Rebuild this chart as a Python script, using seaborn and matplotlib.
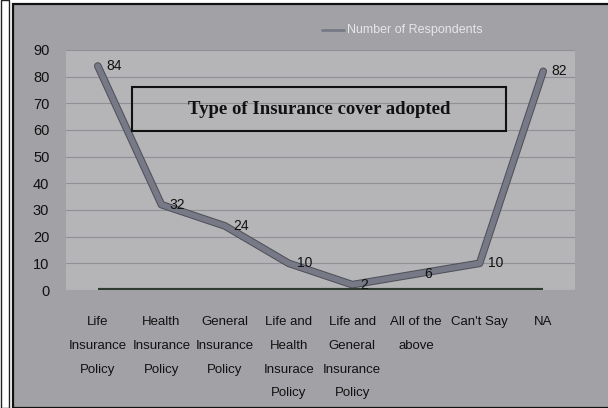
import matplotlib
matplotlib.use("Agg")
import matplotlib.pyplot as plt
import matplotlib.patheffects as pe
from matplotlib.patches import Rectangle
import seaborn as sns
import pandas as pd

categories = ["Life Insurance Policy", "Health Insurance Policy", "General Insurance Policy",
              "Life and Health Insurace Policy", "Life and General Insurance Policy",
              "All of the above", "Can't Say", "NA"]
tick_labels = ["Life\nInsurance\nPolicy", "Health\nInsurance\nPolicy", "General\nInsurance\nPolicy",
               "Life and\nHealth\nInsurace\nPolicy", "Life and\nGeneral\nInsurance\nPolicy",
               "All of the\nabove", "Can't Say", "NA"]
respondents = [84, 32, 24, 10, 2, 6, 10, 82]
series_name = "Number of Respondents"
title_text = "Type of Insurance cover adopted"

df = pd.DataFrame({"cat": categories, "val": respondents})

sns.set_style("white")
sans = ["Liberation Sans", "DejaVu Sans"]
plt.rcParams["font.family"] = sans

fig = plt.figure(figsize=(6.08, 4.08), dpi=100, facecolor="white")
# outer chart frame
fig.patches.append(Rectangle((13/608, 0), 1 - 13/608 + 0.01, (408-4)/408, transform=fig.transFigure,
                             facecolor="#a2a2a6", edgecolor="#111111", lw=1.6, zorder=-10))
fig.patches.append(Rectangle((1/608, 0), 8/608, 1.0, transform=fig.transFigure,
                             facecolor="white", edgecolor="#222222", lw=1.0, zorder=-10))

ax = fig.add_axes([66/608, (408-290)/408, (575-66)/608, (290-50)/408])
ax.set_facecolor("#b5b5b8")

line_color = "#777a86"
sns.lineplot(data=df, x="cat", y="val", ax=ax, sort=False, color=line_color, lw=4,
             path_effects=[pe.Stroke(linewidth=5.5, foreground="#50505a"), pe.Normal()],
             label=series_name, legend=False)

ax.set_ylim(0, 90)
ax.set_xlim(-0.5, len(categories) - 0.5)
ax.set_yticks(range(0, 91, 10))
ax.yaxis.grid(True, color="#909095", lw=0.8)
ax.set_axisbelow(True)
ax.hlines(0, 0, len(categories) - 1, color="#2f3a30", lw=3, zorder=3)

ax.set_xticks(range(len(categories)))
ax.set_xticklabels(tick_labels, fontsize=9.5, color="#111111", linespacing=2.3)
ax.tick_params(axis="x", length=0, pad=19)
ax.tick_params(axis="y", length=0, pad=12, labelsize=10.5, labelcolor="#111111")
for s in ax.spines.values():
    s.set_visible(False)
ax.set_xlabel("")
ax.set_ylabel("")

for i, v in enumerate(respondents):
    ax.annotate(str(v), (i, v), xytext=(6, 0), textcoords="offset points",
                ha="left", va="center", fontsize=10, color="#111111")

# legend at top
fig.lines.append(plt.Line2D([322/608, 344/608], [(408-30)/408]*2, transform=fig.transFigure,
                            color=line_color, lw=2))
fig.text(347/608, (408-30)/408, series_name, ha="left", va="center", fontsize=9,
         color="#e6e6e8")

# title box
fig.patches.append(Rectangle((132/608, (408-131)/408), (506-132)/608, 44/408, transform=fig.transFigure,
                             facecolor="none", edgecolor="#111111", lw=1.5, zorder=5))
fig.text(319/608, (408-109)/408, title_text, ha="center", va="center", fontsize=13.5,
         fontweight="bold", family=["Liberation Serif", "DejaVu Serif"], color="#111111", zorder=6)

fig.savefig("out.png", dpi=100, facecolor=fig.get_facecolor())
